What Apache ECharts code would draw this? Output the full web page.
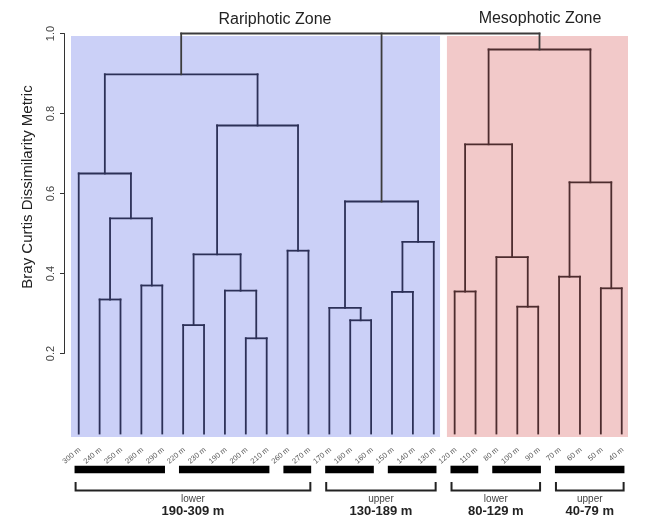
<!DOCTYPE html>
<html>
<head>
<meta charset="utf-8">
<script src="https://cdn.jsdelivr.net/npm/echarts@6/dist/echarts.min.js"></script>
<style>
  html, body { margin: 0; padding: 0; background: #fff; }
  #chart { width: 660px; height: 530px; }
</style>
</head>
<body>
<div id="chart"></div>
<script>
// leaf order as drawn, left to right
const leaves = ['300 m', '240 m', '250 m', '280 m', '290 m', '220 m', '230 m', '190 m', '200 m',
  '210 m', '260 m', '270 m', '170 m', '180 m', '160 m', '150 m', '140 m', '130 m',
  '120 m', '110 m', '80 m', '100 m', '90 m', '70 m', '60 m', '50 m', '40 m'];

// merges: mK refers to the K-th row
const mergePairs = [
  ['240 m', '250 m'],  // m0
  ['280 m', '290 m'],  // m1
  ['m0', 'm1'],        // m2
  ['300 m', 'm2'],     // m3
  ['220 m', '230 m'],  // m4
  ['200 m', '210 m'],  // m5
  ['190 m', 'm5'],     // m6
  ['m4', 'm6'],        // m7
  ['260 m', '270 m'],  // m8
  ['m7', 'm8'],        // m9
  ['m3', 'm9'],        // m10
  ['180 m', '160 m'],  // m11
  ['170 m', 'm11'],    // m12
  ['150 m', '140 m'],  // m13
  ['m13', '130 m'],    // m14
  ['m12', 'm14'],      // m15
  ['120 m', '110 m'],  // m16
  ['100 m', '90 m'],   // m17
  ['80 m', 'm17'],     // m18
  ['m16', 'm18'],      // m19
  ['70 m', '60 m'],    // m20
  ['50 m', '40 m'],    // m21
  ['m20', 'm21'],      // m22
  ['m19', 'm22']       // m23
];
const mergeHeights = [0.335, 0.370, 0.538, 0.650, 0.271, 0.238, 0.357, 0.448, 0.457, 0.770,
  0.898, 0.283, 0.314, 0.354, 0.479, 0.580, 0.355, 0.317, 0.441, 0.723, 0.392, 0.363,
  0.628, 0.960];
const rootChildren = ['m10', 'm15', 'm23'];
const rootHeight = 1.0;

const zoneNames = ['Rariphotic Zone', 'Mesophotic Zone'];
const zoneRanges = [[0, 17], [18, 26]];
const blockRanges = [[0, 4], [5, 9], [10, 11], [12, 14], [15, 17], [18, 19], [20, 22], [23, 26]];
const depthRanges = [[0, 11], [12, 17], [18, 22], [23, 26]];
const depthNames = ['lower', 'upper', 'lower', 'upper'];
const depthLabels = ['190-309 m', '130-189 m', '80-129 m', '40-79 m'];
const yTicks = [0.2, 0.4, 0.6, 0.8, 1.0];

const FONT = "'Liberation Sans', Arial, sans-serif";
const zoneFill = ['#cbd0f7', '#f2c9c9'];
const lineColors = ['#2c3057', '#4d2c2e', '#3c3c3c'];

// node positions: x = leaf index (midpoints for merges), h = height
const pos = {};
leaves.forEach((n, i) => {
  pos[n] = { x: i, h: 0, zone: i <= zoneRanges[0][1] ? 0 : 1 };
});
const segs = [];
function join(kids, h) {
  const zone = kids.every(k => k.zone === kids[0].zone) ? kids[0].zone : 2;
  kids.forEach(k => segs.push([k.x, k.h, k.x, h, zone]));
  const xs = kids.map(k => k.x);
  segs.push([Math.min(...xs), h, Math.max(...xs), h, zone]);
  return zone;
}
mergePairs.forEach((p, k) => {
  const a = pos[p[0]], b = pos[p[1]];
  const zone = join([a, b], mergeHeights[k]);
  pos['m' + k] = { x: (a.x + b.x) / 2, h: mergeHeights[k], zone: zone };
});
join(rootChildren.map(n => pos[n]), rootHeight);

const chart = echarts.init(document.getElementById('chart'));

const option = {
  animation: false,
  grid: [
    { left: 71, right: 32, top: 33.5, bottom: 92.5 },
    { left: 64, width: 1, top: 33.5, height: 320 }
  ],
  xAxis: [
    { gridIndex: 0, type: 'value', min: -0.37, max: 26.3, show: false },
    { gridIndex: 1, type: 'value', min: 0, max: 1, show: false }
  ],
  yAxis: [
    { gridIndex: 0, type: 'value', min: -0.01, max: 1.0, show: false },
    {
      gridIndex: 1, type: 'value', min: 0.2, max: 1.0, interval: 0.2,
      axisLine: { show: true, lineStyle: { color: '#333', width: 1 } },
      axisTick: { show: true, length: 4, lineStyle: { color: '#333' } },
      splitLine: { show: false },
      axisLabel: {
        rotate: 90, margin: 8, fontSize: 11, color: '#444', fontFamily: FONT,
        formatter: v => v.toFixed(1)
      }
    }
  ],
  graphic: [
    {
      type: 'text', x: 28, y: 187, rotation: Math.PI / 2,
      style: { text: 'Bray Curtis Dissimilarity Metric', font: '15px ' + FONT, fill: '#222',
        align: 'center', verticalAlign: 'middle' }
    },
    {
      type: 'text', x: 275, y: 20,
      style: { text: zoneNames[0], font: '16px ' + FONT, fill: '#222',
        align: 'center', verticalAlign: 'middle' }
    },
    {
      type: 'text', x: 540, y: 19,
      style: { text: zoneNames[1], font: '16px ' + FONT, fill: '#222',
        align: 'center', verticalAlign: 'middle' }
    }
  ],
  series: [
    {
      // zone backgrounds
      type: 'custom', xAxisIndex: 0, yAxisIndex: 0, z: 1, silent: true,
      data: zoneRanges.map((r, i) => [r[0], r[1], i]),
      renderItem(params, api) {
        const p0 = api.coord([api.value(0) - 0.37, 0.994]);
        const p1 = api.coord([api.value(1) + 0.3, -0.009]);
        return {
          type: 'rect',
          shape: { x: p0[0], y: p0[1], width: p1[0] - p0[0], height: p1[1] - p0[1] },
          style: { fill: zoneFill[api.value(2)] }
        };
      }
    },
    {
      // dendrogram
      type: 'custom', xAxisIndex: 0, yAxisIndex: 0, z: 3, silent: true,
      encode: { x: [0, 2], y: [1, 3] },
      data: segs,
      renderItem(params, api) {
        const a = api.coord([api.value(0), api.value(1)]);
        const b = api.coord([api.value(2), api.value(3)]);
        return {
          type: 'line',
          shape: { x1: a[0], y1: a[1], x2: b[0], y2: b[1] },
          style: { stroke: lineColors[api.value(4)], lineWidth: 1.8, lineCap: 'square' }
        };
      }
    },
    {
      // leaf labels
      type: 'custom', xAxisIndex: 0, yAxisIndex: 0, z: 3, silent: true,
      data: leaves.map((n, i) => [i, 0]),
      renderItem(params, api) {
        const p = api.coord([api.value(0), 0]);
        return {
          type: 'text', x: p[0] + 1, y: p[1] + 15.5, rotation: 40 * Math.PI / 180,
          style: { text: leaves[params.dataIndex], font: '7.5px ' + FONT, fill: '#555',
            align: 'right', verticalAlign: 'middle' }
        };
      }
    },
    {
      // black blocks
      type: 'custom', xAxisIndex: 0, yAxisIndex: 0, z: 3, silent: true,
      data: blockRanges,
      renderItem(params, api) {
        const a = api.coord([api.value(0) - 0.2, 0]);
        const b = api.coord([api.value(1) + 0.13, 0]);
        return {
          type: 'rect',
          shape: { x: a[0], y: a[1] + 32.2, width: b[0] - a[0], height: 7.6 },
          style: { fill: '#000' }
        };
      }
    },
    {
      // depth brackets
      type: 'custom', xAxisIndex: 0, yAxisIndex: 0, z: 3, silent: true,
      data: depthRanges,
      renderItem(params, api) {
        const a = api.coord([api.value(0) - 0.15, 0]);
        const b = api.coord([api.value(1) + 0.09, 0]);
        const y0 = a[1];
        const cx = (a[0] + b[0]) / 2;
        return {
          type: 'group',
          children: [
            {
              type: 'polyline',
              shape: { points: [[a[0], y0 + 48.5], [a[0], y0 + 57], [b[0], y0 + 57], [b[0], y0 + 48.5]] },
              style: { stroke: '#222', lineWidth: 2, fill: null }
            },
            {
              type: 'text', x: cx, y: y0 + 65.5,
              style: { text: depthNames[params.dataIndex], font: '10px ' + FONT, fill: '#444',
                align: 'center', verticalAlign: 'middle' }
            },
            {
              type: 'text', x: cx, y: y0 + 77.5,
              style: { text: depthLabels[params.dataIndex], font: 'bold 13px ' + FONT, fill: '#222',
                align: 'center', verticalAlign: 'middle' }
            }
          ]
        };
      }
    }
  ]
};

chart.setOption(option);
</script>
</body>
</html>
